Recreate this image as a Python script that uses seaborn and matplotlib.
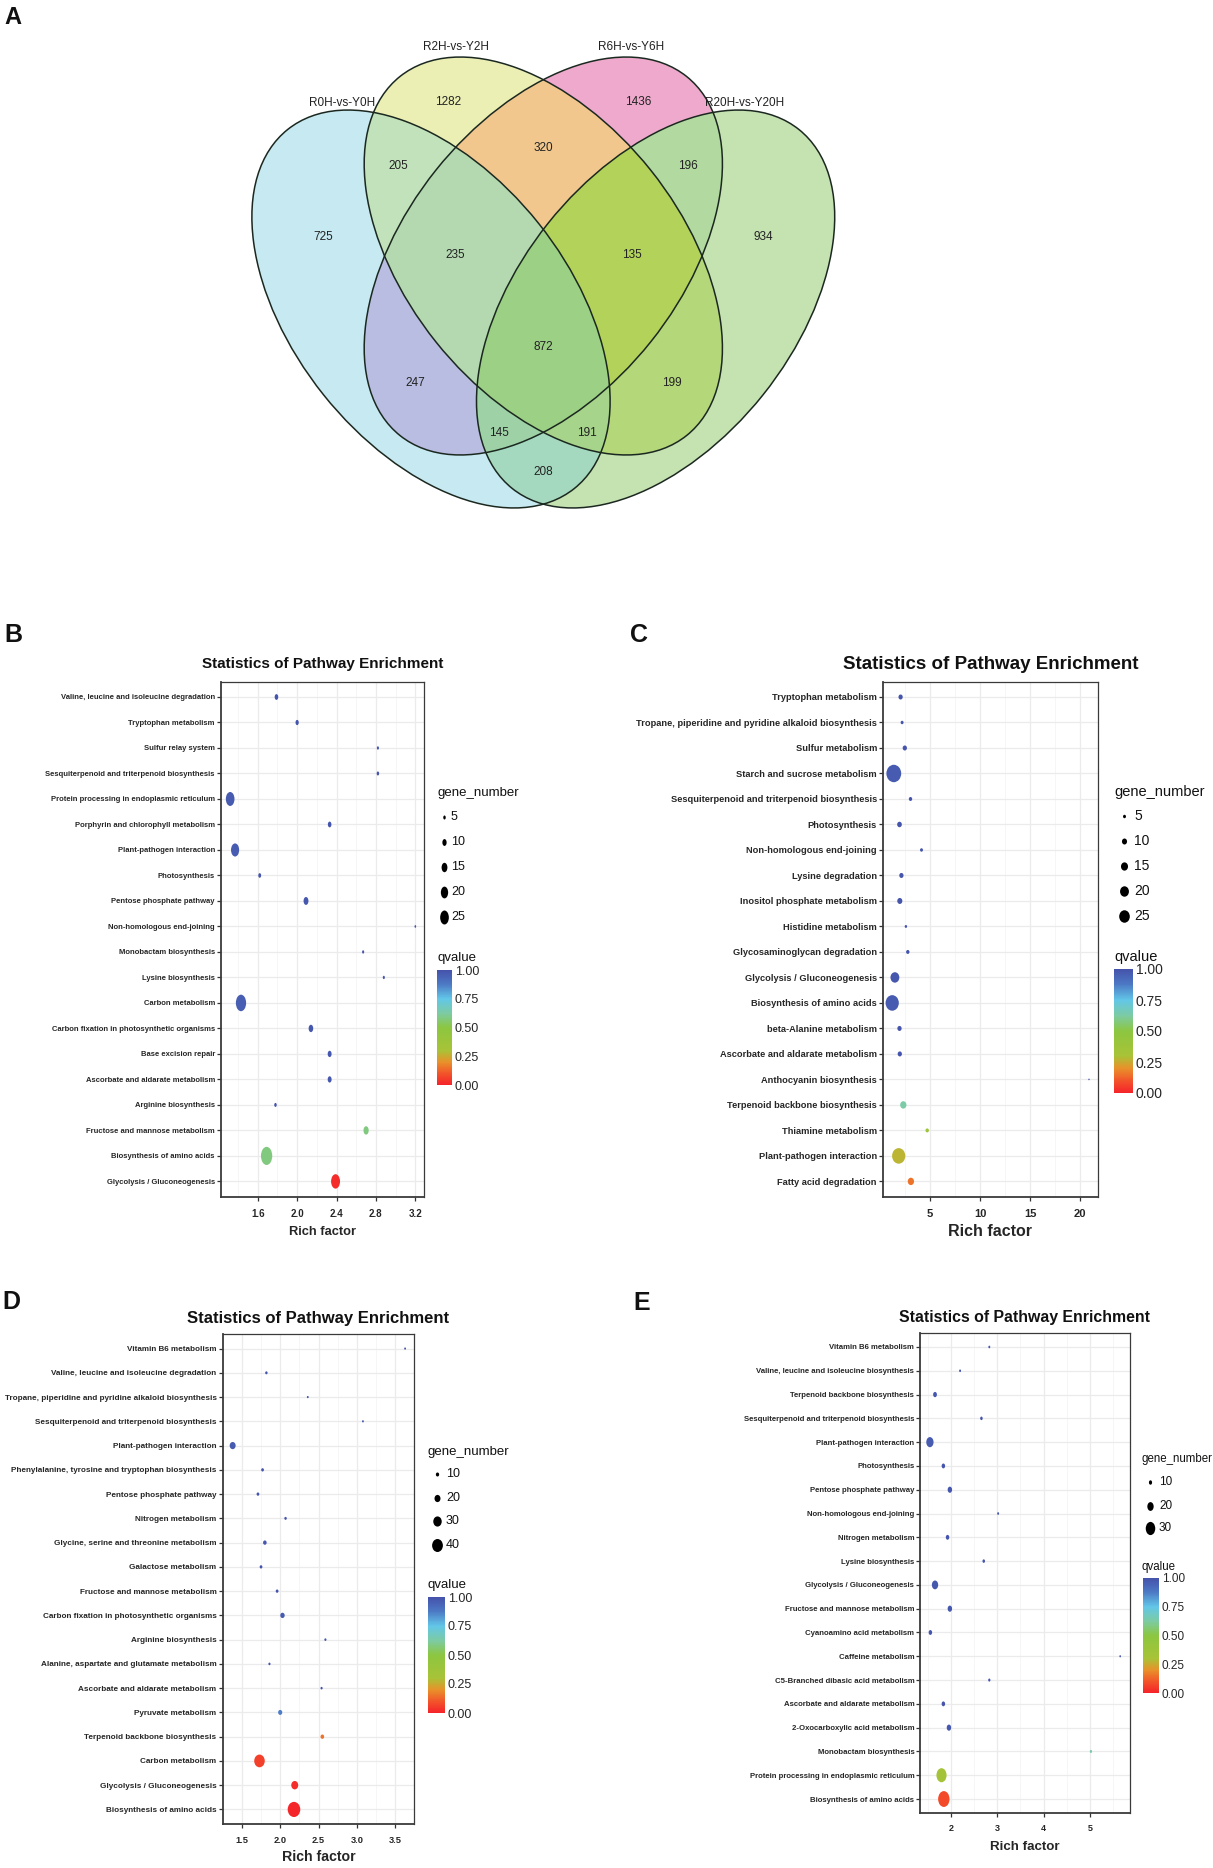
import numpy as np
import pandas as pd
import matplotlib
matplotlib.use("Agg")
import matplotlib.pyplot as plt
import seaborn as sns
from matplotlib.colors import LinearSegmentedColormap, Normalize, to_rgb
from matplotlib.patches import Ellipse
from matplotlib.markers import MarkerStyle
from matplotlib.path import Path
from matplotlib.cm import ScalarMappable

W, H, DPI = 1213, 1868, 100

# ---------------- data: Venn (panel A) ----------------
venn_names = ["R0H-vs-Y0H", "R2H-vs-Y2H", "R6H-vs-Y6H", "R20H-vs-Y20H"]
venn_keys = ["A", "B", "C", "D", "AB", "AC", "AD", "BC", "BD", "CD",
             "ABC", "ABD", "ACD", "BCD", "ABCD"]
venn_counts = [725, 1282, 1436, 934, 205, 247, 208, 320, 199, 196,
               235, 191, 145, 135, 872]

# ---------------- data: KEGG enrichment panels ----------------
b_pathway = ["Valine, leucine and isoleucine degradation", "Tryptophan metabolism",
             "Sulfur relay system", "Sesquiterpenoid and triterpenoid biosynthesis",
             "Protein processing in endoplasmic reticulum", "Porphyrin and chlorophyll metabolism",
             "Plant-pathogen interaction", "Photosynthesis", "Pentose phosphate pathway",
             "Non-homologous end-joining", "Monobactam biosynthesis", "Lysine biosynthesis",
             "Carbon metabolism", "Carbon fixation in photosynthetic organisms",
             "Base excision repair", "Ascorbate and aldarate metabolism", "Arginine biosynthesis",
             "Fructose and mannose metabolism", "Biosynthesis of amino acids",
             "Glycolysis / Gluconeogenesis"]
b_rich = [1.79, 2.00, 2.82, 2.82, 1.32, 2.33, 1.37, 1.62, 2.09, 3.20,
          2.67, 2.88, 1.43, 2.14, 2.33, 2.33, 1.78, 2.70, 1.69, 2.39]
b_genes = [8, 7, 4, 5, 25, 8, 23, 6, 12, 3, 4, 4, 31, 11, 9, 9, 5, 13, 35, 26]
b_qvalue = [0.99, 0.99, 0.99, 0.99, 0.97, 0.99, 0.97, 0.99, 0.98, 0.99,
            0.99, 0.99, 0.96, 0.98, 0.98, 0.98, 0.99, 0.58, 0.58, 0.02]

c_pathway = ["Tryptophan metabolism", "Tropane, piperidine and pyridine alkaloid biosynthesis",
             "Sulfur metabolism", "Starch and sucrose metabolism",
             "Sesquiterpenoid and triterpenoid biosynthesis", "Photosynthesis",
             "Non-homologous end-joining", "Lysine degradation", "Inositol phosphate metabolism",
             "Histidine metabolism", "Glycosaminoglycan degradation",
             "Glycolysis / Gluconeogenesis", "Biosynthesis of amino acids",
             "beta-Alanine metabolism", "Ascorbate and aldarate metabolism",
             "Anthocyanin biosynthesis", "Terpenoid backbone biosynthesis",
             "Thiamine metabolism", "Plant-pathogen interaction", "Fatty acid degradation"]
c_rich = [2.06, 2.21, 2.48, 1.38, 3.05, 1.95, 4.15, 2.14, 1.98, 2.59,
          2.78, 1.49, 1.22, 1.95, 1.98, 20.9, 2.33, 4.72, 1.87, 3.09]
c_genes = [8, 5, 8, 38, 6, 9, 5, 8, 10, 4, 6, 20, 33, 8, 8, 2, 13, 6, 33, 13]
c_qvalue = [0.99, 0.99, 0.99, 0.97, 0.99, 0.99, 0.99, 0.99, 0.99, 0.99,
            0.99, 0.98, 0.97, 0.99, 0.99, 0.99, 0.63, 0.38, 0.27, 0.15]

d_pathway = ["Vitamin B6 metabolism", "Valine, leucine and isoleucine degradation",
             "Tropane, piperidine and pyridine alkaloid biosynthesis",
             "Sesquiterpenoid and triterpenoid biosynthesis", "Plant-pathogen interaction",
             "Phenylalanine, tyrosine and tryptophan biosynthesis", "Pentose phosphate pathway",
             "Nitrogen metabolism", "Glycine, serine and threonine metabolism",
             "Galactose metabolism", "Fructose and mannose metabolism",
             "Carbon fixation in photosynthetic organisms", "Arginine biosynthesis",
             "Alanine, aspartate and glutamate metabolism", "Ascorbate and aldarate metabolism",
             "Pyruvate metabolism", "Terpenoid backbone biosynthesis", "Carbon metabolism",
             "Glycolysis / Gluconeogenesis", "Biosynthesis of amino acids"]
d_rich = [3.63, 1.82, 2.36, 3.08, 1.38, 1.77, 1.71, 2.07, 1.80, 1.75,
          1.96, 2.03, 2.59, 1.86, 2.54, 2.00, 2.55, 1.73, 2.19, 2.18]
d_genes = [5, 7, 5, 5, 20, 8, 8, 7, 11, 8, 8, 14, 6, 6, 6, 13, 11, 39, 24, 48]
d_qvalue = [0.99, 0.99, 0.99, 0.99, 0.97, 0.99, 0.99, 0.99, 0.98, 0.99,
            0.99, 0.97, 0.99, 0.99, 0.99, 0.87, 0.15, 0.06, 0.02, 0.01]

e_pathway = ["Vitamin B6 metabolism", "Valine, leucine and isoleucine biosynthesis",
             "Terpenoid backbone biosynthesis", "Sesquiterpenoid and triterpenoid biosynthesis",
             "Plant-pathogen interaction", "Photosynthesis", "Pentose phosphate pathway",
             "Non-homologous end-joining", "Nitrogen metabolism", "Lysine biosynthesis",
             "Glycolysis / Gluconeogenesis", "Fructose and mannose metabolism",
             "Cyanoamino acid metabolism", "Caffeine metabolism",
             "C5-Branched dibasic acid metabolism", "Ascorbate and aldarate metabolism",
             "2-Oxocarboxylic acid metabolism", "Monobactam biosynthesis",
             "Protein processing in endoplasmic reticulum", "Biosynthesis of amino acids"]
e_rich = [2.83, 2.20, 1.66, 2.66, 1.55, 1.84, 1.98, 3.02, 1.93, 2.71,
          1.66, 1.98, 1.56, 5.65, 2.83, 1.84, 1.96, 5.02, 1.80, 1.85]
e_genes = [6, 6, 12, 8, 23, 11, 14, 6, 11, 8, 20, 14, 11, 5, 7, 11, 14, 7, 32, 36]
e_qvalue = [0.99, 0.99, 0.98, 0.99, 0.97, 0.99, 0.98, 0.99, 0.99, 0.99,
            0.98, 0.98, 0.99, 0.99, 0.99, 0.99, 0.98, 0.64, 0.33, 0.08]

# ---------------- styling ----------------
sns.set_theme(style="white")
plt.rcParams["font.family"] = ["Liberation Sans", "DejaVu Sans"]
plt.rcParams["text.color"] = "#111111"

q_cmap = LinearSegmentedColormap.from_list(
    "qvalue",
    list(zip([0, 0.1, 0.2, 0.3, 0.5, 0.62, 0.75, 0.88, 1.0],
             ["#F5222A", "#F2552A", "#E8922A", "#A8C337", "#8CC640",
              "#7DCBA0", "#62C7E8", "#4C78C4", "#4552AA"])))

# Venn drawn in figure-pixel coordinates (x right, y down)
venn_fill = {"A": "#C7E9F1", "B": "#EBF0B5", "C": "#F0A9CC", "D": "#C6E2B1",
             "AB": "#C1E2BC", "AC": "#B9BDE1", "AD": "#A5D9BF", "BC": "#F2C88E",
             "BD": "#B5D77A", "CD": "#B2D9A0", "ABC": "#B5DAB0", "ABD": "#A5D48A",
             "ACD": "#9ED3A6", "BCD": "#B2D35A", "ABCD": "#9DD085"}
venn_axes = (431.0, 309.0, 229.7, 137.5)          # cx, cy, semi-major, semi-minor (blue)
venn_ellipses = [(431.0, 309.0, 51.4), (543.3, 256.0, 51.4),
                 (543.3, 256.0, -51.4), (655.6, 309.0, -51.4)]
venn_label_xy = {"A": (323, 237), "B": (448, 102), "C": (638, 102), "D": (763, 237),
                 "AB": (398, 166), "CD": (688, 166), "BC": (543, 148),
                 "ABC": (455, 255), "BCD": (632, 255), "ABCD": (543, 347),
                 "AC": (415, 383), "BD": (672, 383), "ACD": (499, 433),
                 "ABD": (587, 433), "AD": (543, 472)}
venn_name_xy = [(342, 103), (456, 47), (631, 47), (745, 103)]


def px_rect(x0, y0, x1, y1):
    return [x0 / W, 1 - y1 / H, (x1 - x0) / W, (y1 - y0) / H]


def squeezed_dot(ratio):
    circ = Path.unit_circle()
    return MarkerStyle(Path(circ.vertices * np.array([ratio, 1.0]), circ.codes))


fig = plt.figure(figsize=(W / DPI, H / DPI), dpi=DPI)
fig.patch.set_facecolor("white")

ov = fig.add_axes([0, 0, 1, 1], zorder=10)
ov.set_xlim(0, W)
ov.set_ylim(H, 0)
ov.axis("off")

# ---------------- panel A: Venn ----------------
vx0, vy0, vx1, vy1 = 200, 20, 890, 540
vax = fig.add_axes(px_rect(vx0, vy0, vx1, vy1))
semi_a, semi_b = venn_axes[2], venn_axes[3]
gx = np.linspace(vx0, vx1, 1380)
gy = np.linspace(vy0, vy1, 1040)
GX, GY = np.meshgrid(gx, gy)
inside = []
for cx, cy, ang in venn_ellipses:
    t = np.deg2rad(ang)
    u = (GX - cx) * np.cos(t) + (GY - cy) * np.sin(t)
    v = -(GX - cx) * np.sin(t) + (GY - cy) * np.cos(t)
    inside.append((u / semi_a) ** 2 + (v / semi_b) ** 2 <= 1)
img = np.ones(GX.shape + (3,))
for key, col in venn_fill.items():
    mask = np.ones(GX.shape, dtype=bool)
    for i, letter in enumerate("ABCD"):
        mask &= inside[i] == (letter in key)
    img[mask] = to_rgb(col)
vax.imshow(img, extent=(vx0, vx1, vy1, vy0), origin="upper", aspect="auto",
           interpolation="bilinear")
for cx, cy, ang in venn_ellipses:
    vax.add_patch(Ellipse((cx, cy), 2 * semi_a, 2 * semi_b, angle=ang, fill=False,
                          ec="#1b2820", lw=1.1))
for key, n in zip(venn_keys, venn_counts):
    x, y = venn_label_xy[key]
    vax.text(x, y, str(n), ha="center", va="center", fontsize=8.5, color="#222222")
for name, (x, y) in zip(venn_names, venn_name_xy):
    vax.text(x, y, name, ha="center", va="center", fontsize=8.5, color="#222222")
vax.set_xlim(vx0, vx1)
vax.set_ylim(vy1, vy0)
vax.axis("off")

# ---------------- panels B-E: bubble charts ----------------
panels = [
    dict(letter="B", letter_xy=(4, 635), path=b_pathway, rich=b_rich, genes=b_genes, q=b_qvalue,
         box=(221, 681.7, 424.3, 1196.7), xlim=(1.227, 3.291),
         xticks=[1.6, 2.0, 2.4, 2.8, 3.2], xminor=[1.4, 1.8, 2.2, 2.6, 3.0], fmt="{:.1f}",
         fs_y=5.5, fs_title=11, fs_x=7, fs_xlab=9.3, fs_leg=9.5, fs_legl=9,
         title_pad=9.7, xtick_pad=6.1, xlab_pad=5.1, ratio=0.62, size_c=1.143, size_p=0.778,
         breaks=[5, 10, 15, 20, 25], leg_x=437, leg_title_y=793, dot_x=444, lab_x=451,
         leg_ys=[817, 842, 867, 892, 917], q_title_y=958, cbar=(437, 970, 452, 1085)),
    dict(letter="C", letter_xy=(630, 635), path=c_pathway, rich=c_rich, genes=c_genes, q=c_qvalue,
         box=(883, 681.7, 1098, 1196.7), xlim=(0.3, 21.8),
         xticks=[5, 10, 15, 20], xminor=[2.5, 7.5, 12.5, 17.5], fmt="{:.0f}",
         fs_y=6.7, fs_title=13.5, fs_x=8, fs_xlab=11.5, fs_leg=10.5, fs_legl=10,
         title_pad=8.8, xtick_pad=5.8, xlab_pad=3.7, ratio=0.85, size_c=0.95, size_p=0.8,
         breaks=[5, 10, 15, 20, 25], leg_x=1114, leg_title_y=792, dot_x=1124, lab_x=1134,
         leg_ys=[816, 841, 866, 891, 916], q_title_y=957, cbar=(1114, 969, 1133, 1093)),
    dict(letter="D", letter_xy=(2, 1302), path=d_pathway, rich=d_rich, genes=d_genes, q=d_qvalue,
         box=(222.7, 1334, 414.3, 1824), xlim=(1.267, 3.746),
         xticks=[1.5, 2.0, 2.5, 3.0, 3.5], xminor=[1.25, 1.75, 2.25, 2.75, 3.25, 3.75],
         fmt="{:.1f}", fs_y=5.9, fs_title=12, fs_x=6.7, fs_xlab=10.2, fs_leg=9.5, fs_legl=9,
         title_pad=8.1, xtick_pad=5.9, xlab_pad=3.6, ratio=0.83, size_c=0.565, size_p=0.85,
         breaks=[10, 20, 30, 40], leg_x=428, leg_title_y=1452, dot_x=437, lab_x=446,
         leg_ys=[1474, 1498, 1521, 1545], q_title_y=1585, cbar=(428, 1597, 445, 1713)),
    dict(letter="E", letter_xy=(633, 1303), path=e_pathway, rich=e_rich, genes=e_genes, q=e_qvalue,
         box=(920.4, 1332.7, 1129.5, 1813.3), xlim=(1.345, 5.851),
         xticks=[2, 3, 4, 5], xminor=[1.5, 2.5, 3.5, 4.5, 5.5], fmt="{:.0f}",
         fs_y=5.6, fs_title=11.4, fs_x=6.5, fs_xlab=9.6, fs_leg=8.3, fs_legl=8.5,
         title_pad=7.9, xtick_pad=5.0, xlab_pad=5.3, ratio=0.72, size_c=0.44, size_p=1.0,
         breaks=[10, 20, 30], leg_x=1142, leg_title_y=1459, dot_x=1150, lab_x=1159,
         leg_ys=[1482, 1506, 1528], q_title_y=1567, cbar=(1143, 1578, 1159, 1693)),
]

# panel letter A
ov.text(4, 17, "A", fontsize=17, fontweight="bold", va="center", ha="left")

for p in panels:
    df = pd.DataFrame({"pathway": p["path"], "rich_factor": p["rich"],
                       "gene_number": p["genes"], "qvalue": p["q"]})
    area = lambda n, c=p["size_c"], e=p["size_p"]: (0.72 * c * n ** e) ** 2
    sizes = {n: area(n) for n in df["gene_number"].unique()}
    mk = squeezed_dot(p["ratio"])

    ax = fig.add_axes(px_rect(*p["box"]))
    sns.scatterplot(data=df, x="rich_factor", y="pathway", hue="qvalue", size="gene_number",
                    palette=q_cmap, hue_norm=(0, 1), sizes=sizes, marker=mk,
                    linewidth=0, legend=False, ax=ax, zorder=3)
    n = len(df)
    ax.set_ylim(n - 1 + 0.6, -0.6)
    ax.set_yticks(range(n))
    ax.set_yticklabels(p["path"], fontsize=p["fs_y"], fontweight="bold")
    ax.set_xlim(*p["xlim"])
    ax.set_xticks(p["xticks"])
    ax.set_xticklabels([p["fmt"].format(v) for v in p["xticks"]],
                       fontsize=p["fs_x"], fontweight="bold")
    ax.set_xticks(p["xminor"], minor=True)
    ax.grid(True, which="major", color="#EBEBEB", lw=0.9)
    ax.grid(True, which="minor", axis="x", color="#F5F5F5", lw=0.6)
    ax.set_axisbelow(True)
    ax.tick_params(which="major", length=2.9, width=0.9, color="#333333", pad=1.5,
                   left=True, bottom=True)
    ax.tick_params(axis="x", which="major", pad=p["xtick_pad"])
    ax.tick_params(which="minor", length=0)
    for side, sp in ax.spines.items():
        sp.set_visible(True)
        sp.set_color("#3a3a3a")
        sp.set_linewidth(1.3 if side in ("left", "bottom") else 0.9)
    ax.set_ylabel("")
    ax.set_xlabel("Rich factor", fontsize=p["fs_xlab"], fontweight="bold",
                  labelpad=p["xlab_pad"])
    ax.set_title("Statistics of Pathway Enrichment", fontsize=p["fs_title"],
                 fontweight="bold", pad=p["title_pad"])

    # panel letter
    lx, ly = p["letter_xy"]
    ov.text(lx, ly, p["letter"], fontsize=18, fontweight="bold", va="center", ha="left")

    # size legend
    ov.text(p["leg_x"], p["leg_title_y"], "gene_number", fontsize=p["fs_leg"],
            va="center", ha="left")
    for b, y in zip(p["breaks"], p["leg_ys"]):
        ov.scatter([p["dot_x"]], [y], s=area(b), marker=mk, color="black", linewidth=0)
        ov.text(p["lab_x"], y, str(b), fontsize=p["fs_legl"], va="center", ha="left")

    # colour legend
    ov.text(p["leg_x"], p["q_title_y"], "qvalue", fontsize=p["fs_leg"], va="center", ha="left")
    cax = fig.add_axes(px_rect(*p["cbar"]))
    cb = fig.colorbar(ScalarMappable(norm=Normalize(0, 1), cmap=q_cmap), cax=cax,
                      ticks=[0, 0.25, 0.5, 0.75, 1.0])
    cb.ax.set_yticklabels(["0.00", "0.25", "0.50", "0.75", "1.00"], fontsize=p["fs_legl"])
    cb.outline.set_visible(False)
    cb.ax.tick_params(length=3, width=0.8, color="white", direction="in", pad=2)

fig.savefig("out.png", dpi=DPI, facecolor="white")
